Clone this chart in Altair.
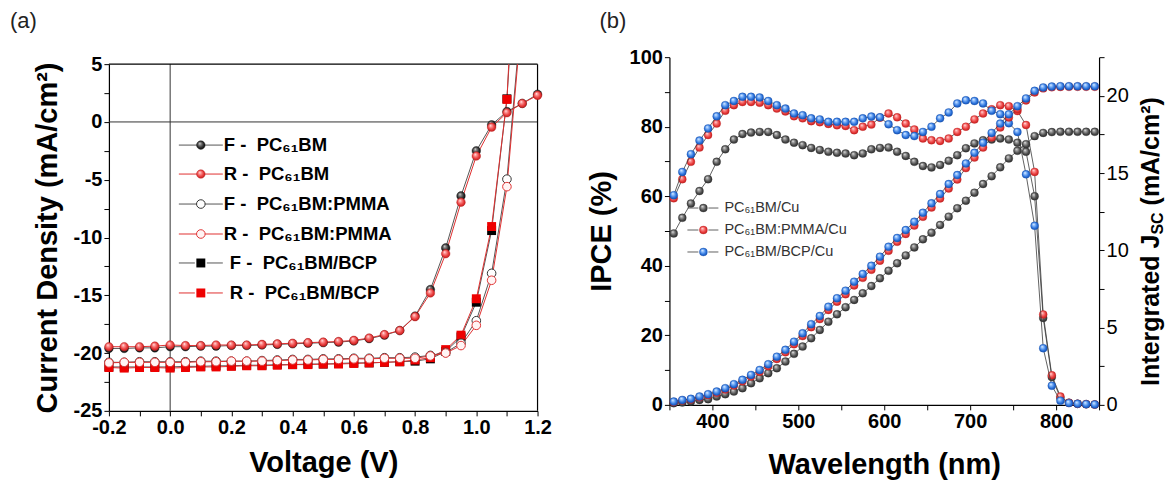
import altair as alt
import pandas as pd

FONT = "Liberation Sans"

# ---------------- panel (a): J-V curves ----------------
volt = [-0.2, -0.15, -0.1, -0.05, 0.0, 0.05, 0.1, 0.15, 0.2, 0.25, 0.3, 0.35, 0.4, 0.45,
        0.5, 0.55, 0.6, 0.65, 0.7, 0.75, 0.8, 0.85, 0.9, 0.95, 1.0, 1.05, 1.1, 1.15, 1.2]
volt_cut = volt[:27]  # PMMA / BCP points stop at 1.1 V

f_pcbm = [-19.6, -19.6, -19.55, -19.55, -19.45, -19.45, -19.4, -19.4, -19.35, -19.35, -19.3,
          -19.25, -19.2, -19.15, -19.1, -19.05, -18.95, -18.75, -18.45, -18.05, -16.8, -14.5,
          -10.9, -6.4, -2.5, -0.25, 0.9, 1.6, 2.4]
r_pcbm = [-19.45, -19.45, -19.45, -19.4, -19.3, -19.35, -19.35, -19.3, -19.3, -19.3, -19.25,
          -19.2, -19.15, -19.1, -19.05, -19.0, -18.9, -18.7, -18.4, -18.05, -16.85, -14.8,
          -11.4, -6.95, -2.95, -0.45, 0.8, 1.6, 2.3]
f_pmma = [-20.8, -20.8, -20.75, -20.75, -20.75, -20.75, -20.7, -20.7, -20.7, -20.7, -20.65,
          -20.6, -20.55, -20.55, -20.5, -20.5, -20.45, -20.45, -20.4, -20.4, -20.35, -20.2,
          -19.95, -19.15, -17.2, -13.1, -4.95]
r_pmma = [-20.85, -20.8, -20.8, -20.8, -20.8, -20.8, -20.75, -20.75, -20.7, -20.7, -20.7,
          -20.65, -20.6, -20.6, -20.55, -20.55, -20.5, -20.5, -20.45, -20.45, -20.45, -20.25,
          -20.0, -19.35, -17.6, -13.7, -5.6]
f_bcp = [-21.2, -21.2, -21.2, -21.2, -21.2, -21.15, -21.15, -21.1, -21.1, -21.05, -21.05,
         -21.0, -21.0, -20.95, -20.95, -20.9, -20.85, -20.85, -20.8, -20.75, -20.7, -20.5,
         -19.85, -18.6, -15.6, -9.4, 2.0]
r_bcp = [-21.25, -21.3, -21.25, -21.25, -21.3, -21.25, -21.2, -21.2, -21.15, -21.1, -21.1,
         -21.05, -21.0, -21.0, -20.95, -20.95, -20.9, -20.85, -20.8, -20.75, -20.6, -20.4,
         -19.7, -18.45, -15.3, -9.05, 1.95]
# where the steep curves leave the frame at the top (V, J)
exit_f_pmma = [1.133, 5.0]
exit_r_pmma = [1.135, 5.0]
exit_f_bcp = [1.107, 5.0]
exit_r_bcp = [1.106, 5.0]

legend_a = ["F -\u00a0\u00a0PC\u2086\u2081BM", "R -\u00a0\u00a0PC\u2086\u2081BM",
            "F -\u00a0\u00a0PC\u2086\u2081BM:PMMA", "R -\u00a0\u00a0PC\u2086\u2081BM:PMMA",
            "F -\u00a0\u00a0PC\u2086\u2081BM/BCP", "R -\u00a0\u00a0PC\u2086\u2081BM/BCP"]
ticks_v = [-0.2, -0.1, 0.0, 0.1, 0.2, 0.3, 0.4, 0.5, 0.6, 0.7, 0.8, 0.9, 1.0, 1.1, 1.2]
ticks_j = [-25, -22.5, -20, -17.5, -15, -12.5, -10, -7.5, -5, -2.5, 0, 2.5, 5]

# ---------------- panel (b): IPCE + integrated Jsc ----------------
lam = [355, 365, 375, 385, 395, 405, 415, 425, 435, 445, 455, 465, 475, 485, 495, 505, 515,
       525, 535, 545, 555, 565, 575, 585, 595, 605, 615, 625, 635, 645, 655, 665, 675, 685,
       695, 705, 715, 725, 735, 745, 755, 765, 775, 785, 795, 805, 815, 825, 835, 845]
ipce_cu = [49.3, 53.8, 57.9, 61.5, 64.9, 69.9, 73.5, 76.3, 77.9, 78.3, 78.5, 78.5, 77.6, 76.3,
           75.4, 74.7, 73.9, 73.3, 72.8, 72.5, 72.3, 71.8, 72.3, 73.5, 73.9, 74.0, 72.8, 71.6,
           69.9, 68.7, 68.3, 69.0, 70.2, 71.8, 73.8, 75.2, 76.1, 76.3, 76.6, 76.3, 75.4, 72.8,
           60.0, 25.0, 8.0, 2.0, 0.6, 0.3, 0.2, 0.1]
ipce_pmma = [59.4, 64.9, 69.9, 74.0, 77.6, 80.9, 84.6, 86.2, 87.1, 87.1, 86.9, 86.2, 85.2, 84.4,
             83.0, 82.4, 81.6, 81.3, 80.8, 80.4, 80.2, 79.0, 80.0, 80.6, 82.6, 83.8, 82.7, 80.9,
             79.2, 76.6, 76.1, 75.9, 76.6, 78.5, 80.0, 82.1, 83.8, 85.0, 86.2, 85.9, 84.5, 80.5,
             67.0, 26.0, 8.5, 2.4, 0.6, 0.3, 0.2, 0.1]
ipce_bcp = [60.3, 67.0, 72.1, 76.0, 79.5, 83.0, 86.2, 87.4, 88.6, 88.6, 88.4, 87.4, 86.2, 85.2,
            83.8, 83.3, 82.4, 82.1, 81.4, 81.4, 81.4, 81.4, 82.4, 82.9, 82.7, 80.7, 79.0, 77.6,
            77.3, 78.5, 80.0, 82.4, 84.1, 86.7, 87.6, 87.4, 86.7, 84.6, 83.6, 81.0, 78.5, 66.3,
            51.5, 16.3, 5.5, 1.2, 0.5, 0.3, 0.2, 0.1]
jsc_cu = [0.11, 0.15, 0.21, 0.32, 0.37, 0.54, 0.69, 0.86, 1.08, 1.40, 1.72, 2.05, 2.37, 2.80,
          3.30, 3.77, 4.31, 4.85, 5.38, 5.86, 6.32, 6.79, 7.22, 7.69, 8.19, 8.68, 9.16, 9.67,
          10.19, 10.71, 11.14, 11.64, 12.18, 12.72, 13.21, 13.73, 14.29, 14.80, 15.37, 15.95,
          16.44, 16.87, 17.39, 17.60, 17.65, 17.67, 17.67, 17.67, 17.67, 17.67]
jsc_pmma = [0.18, 0.28, 0.35, 0.49, 0.63, 0.79, 1.00, 1.25, 1.52, 1.83, 2.14, 2.50, 2.97, 3.40,
            3.92, 4.45, 5.03, 5.55, 6.14, 6.68, 7.16, 7.73, 8.22, 8.74, 9.33, 9.97, 10.55,
            11.06, 11.60, 12.17, 12.77, 13.36, 14.00, 14.58, 15.32, 16.00, 16.65, 17.30, 17.95,
            18.60, 19.15, 19.70, 20.22, 20.48, 20.55, 20.57, 20.58, 20.58, 20.58, 20.58]
jsc_bcp = [0.21, 0.32, 0.39, 0.54, 0.69, 0.86, 1.08, 1.34, 1.62, 1.94, 2.26, 2.63, 3.12, 3.56,
           4.09, 4.63, 5.22, 5.75, 6.35, 6.90, 7.39, 7.97, 8.47, 9.00, 9.59, 10.23, 10.80,
           11.31, 11.85, 12.43, 13.04, 13.64, 14.29, 14.87, 15.62, 16.31, 16.96, 17.60, 18.20,
           18.80, 19.33, 19.83, 20.32, 20.54, 20.60, 20.62, 20.62, 20.62, 20.62, 20.62]
legend_b = ["PC\u2086\u2081BM/Cu", "PC\u2086\u2081BM:PMMA/Cu", "PC\u2086\u2081BM/BCP/Cu"]
right_title = ["Intergrated J", "SC", "(mA/cm\u00b2)"]
ticks_lam = [350, 400, 450, 500, 550, 600, 650, 700, 750, 800, 850]
ticks_ipce = [0, 10, 20, 30, 40, 50, 60, 70, 80, 90, 100]
ticks_jsc = [0, 2.5, 5, 7.5, 10, 12.5, 15, 17.5, 20, 22.5]

# ---------------- styling helpers ----------------
# panel (a) view is 7px taller than its frame so its frame sits 7px lower than panel (b)'s
A_W, A_H, A_TOP = 429, 354, 7
B_W, B_H = 430, 348

COMMON_AXIS = dict(domainColor="black", domainWidth=1.2, tickColor="black", tickWidth=1,
                   tickSize=5, labelFont=FONT, labelFontSize=20, labelFontWeight="bold",
                   labelColor="black", titleFont=FONT, titleFontSize=29, titleFontWeight="bold",
                   titleColor="black", grid=False, labelPadding=2, labelOverlap=False,
                   labelFlush=False)


def sphere(hi, mid, edge):
    return alt.RadialGradient(
        gradient="radial", x1=0.36, y1=0.3, r1=0.0, x2=0.5, y2=0.5, r2=0.62,
        stops=[alt.GradientStop(offset=0.0, color="#ffffff"),
               alt.GradientStop(offset=0.2, color=hi),
               alt.GradientStop(offset=0.62, color=mid),
               alt.GradientStop(offset=1.0, color=edge)])


SPH_A_BLACK = dict(fill=sphere("#909090", "#2a2a2a", "#000000"), stroke="#111111")
SPH_A_RED = dict(fill=sphere("#ffa0a0", "#e83a3a", "#b01515"), stroke="#b01515")
SPH_B_BLACK = dict(fill=sphere("#a8a8a8", "#4a4a4a", "#222222"), stroke="#2a2a2a")
SPH_B_RED = dict(fill=sphere("#ff9a9a", "#e63838", "#b41818"), stroke="#b41818")
SPH_B_BLUE = dict(fill=sphere("#9cc8ff", "#2a72dc", "#0f44a0"), stroke="#0f44a0")

xa = alt.Scale(domain=[-0.2, 1.2], nice=False, zero=False)
ya = alt.Scale(domain=[-25, 5], nice=False, zero=False, range=[A_H, A_TOP])
xb = alt.Scale(domain=[350, 850], nice=False, zero=False)
yb = alt.Scale(domain=[0, 100], nice=False, zero=False)
yj = alt.Scale(domain=[0, 22.5], nice=False, zero=False)

X_AXIS_A = alt.Axis(values=ticks_v,
                    labelExpr="abs(round(datum.value*10)) % 2 == 0 ? (datum.value < -0.001 ? '-' : '') + format(abs(datum.value), '.1f') : ''",
                    title="Voltage (V)", titleX=A_W / 2, titleY=52, titleBaseline="middle",
                    **COMMON_AXIS)
Y_AXIS_A = alt.Axis(values=ticks_j,
                    labelExpr="abs(datum.value % 5) < 0.001 ? (datum.value < 0 ? '-' : '') + format(abs(datum.value), 'd') : ''",
                    title="Current Density (mA/cm\u00b2)", titleX=-61,
                    titleY=(A_H + A_TOP) / 2,
                    titleAngle=270, titleBaseline="middle", titleAlign="center",
                    **COMMON_AXIS)
X_AXIS_B = alt.Axis(values=ticks_lam,
                    labelExpr="datum.value % 100 == 0 ? format(datum.value, 'd') : ''",
                    title="Wavelength (nm)", titleX=B_W / 2, titleY=60, titleBaseline="middle",
                    **COMMON_AXIS)
Y_AXIS_B = alt.Axis(values=ticks_ipce,
                    labelExpr="datum.value % 20 == 0 ? format(datum.value, 'd') : ''",
                    title="IPCE (%)", titleX=-68, titleY=B_H / 2, titleAngle=270,
                    titleBaseline="middle", titleAlign="center", **COMMON_AXIS)
rc = dict(COMMON_AXIS)
rc["labelFontWeight"] = "normal"
Y_AXIS_J = alt.Axis(values=ticks_jsc, orient="right",
                    labelExpr="datum.value % 5 == 0 ? format(datum.value, 'd') : ''",
                    title="", **rc)


def df_xy(xs, ys, extra=None):
    xs = list(xs)
    ys = list(ys)
    if extra is not None:
        xs = xs + [extra[0]]
        ys = ys + [extra[1]]
    return pd.DataFrame({"x": xs, "y": ys})


def a_enc(chart):
    return chart.encode(x=alt.X("x:Q", scale=xa, axis=X_AXIS_A),
                        y=alt.Y("y:Q", scale=ya, axis=Y_AXIS_A))


def a_line(xs, ys, color, extra=None):
    return a_enc(alt.Chart(df_xy(xs, ys, extra)).mark_line(color=color, strokeWidth=1))


def txt(label, x, y, **kw):
    return alt.Chart(pd.DataFrame({"t": [label]})).mark_text(**kw).encode(
        text="t:N", x=alt.value(x), y=alt.value(y))


# ---------------- panel (a) layers ----------------
vzero = alt.Chart(pd.DataFrame({"x": [0.0]})).mark_rule(color="#333333", strokeWidth=1).encode(
    x=alt.X("x:Q", scale=xa, axis=X_AXIS_A), y=alt.value(A_TOP), y2=alt.value(A_H))
hzero = alt.Chart(pd.DataFrame({"y": [0.0]})).mark_rule(color="#333333", strokeWidth=1).encode(
    y=alt.Y("y:Q", scale=ya, axis=Y_AXIS_A))
frame_top = alt.Chart(pd.DataFrame({"t": [0]})).mark_rule(color="black", strokeWidth=1.2).encode(
    x=alt.value(0), x2=alt.value(A_W), y=alt.value(A_TOP))
frame_right = alt.Chart(pd.DataFrame({"t": [0]})).mark_rule(color="black", strokeWidth=1.2).encode(
    x=alt.value(A_W), y=alt.value(A_TOP), y2=alt.value(A_H))

GRAY_L = "#555555"
RED_L = "#e03030"
SZ_A = 74

a_layers = [vzero, hzero, frame_top, frame_right,
            a_line(volt_cut, f_bcp, GRAY_L, exit_f_bcp),
            a_line(volt_cut, r_bcp, RED_L, exit_r_bcp),
            a_line(volt_cut, f_pmma, GRAY_L, exit_f_pmma),
            a_line(volt_cut, r_pmma, RED_L, exit_r_pmma),
            a_line(volt, f_pcbm, GRAY_L),
            a_line(volt, r_pcbm, RED_L),
            a_enc(alt.Chart(df_xy(volt_cut, f_bcp)).mark_square(size=80, color="black", opacity=1)),
            a_enc(alt.Chart(df_xy(volt_cut, r_bcp)).mark_square(size=80, color="#ee0000", opacity=1)),
            a_enc(alt.Chart(df_xy(volt_cut, f_pmma)).mark_point(
                shape="circle", size=SZ_A, filled=True, fill="white", stroke="#333333",
                strokeWidth=1, opacity=1)),
            a_enc(alt.Chart(df_xy(volt_cut, r_pmma)).mark_point(
                shape="circle", size=SZ_A, filled=True, fill="#fff4f4", stroke="#e03535",
                strokeWidth=1, opacity=1)),
            a_enc(alt.Chart(df_xy(volt, f_pcbm)).mark_circle(size=SZ_A, opacity=1, strokeWidth=0.4,
                                                             **SPH_A_BLACK)),
            a_enc(alt.Chart(df_xy(volt, r_pcbm)).mark_circle(size=SZ_A, opacity=1, strokeWidth=0.4,
                                                             **SPH_A_RED)),
            ]

# legend (a)
row_y = [88, 117, 147, 177, 206, 236]
SYM_X = 92
for i, label in enumerate(legend_a):
    ry = row_y[i]
    lc = GRAY_L if i % 2 == 0 else RED_L
    d1 = pd.DataFrame({"t": [label]})
    if i < 4:
        a_layers.append(alt.Chart(d1).mark_rule(color=lc, strokeWidth=1).encode(
            x=alt.value(70), x2=alt.value(114), y=alt.value(ry)))
        tx = 115
    else:
        a_layers.append(alt.Chart(d1).mark_rule(color=lc, strokeWidth=1).encode(
            x=alt.value(70), x2=alt.value(86), y=alt.value(ry)))
        a_layers.append(alt.Chart(d1).mark_rule(color=lc, strokeWidth=1).encode(
            x=alt.value(98), x2=alt.value(114), y=alt.value(ry)))
        tx = 121
    if i == 0:
        sym = alt.Chart(d1).mark_circle(size=SZ_A, opacity=1, strokeWidth=0.4, **SPH_A_BLACK)
    elif i == 1:
        sym = alt.Chart(d1).mark_circle(size=SZ_A, opacity=1, strokeWidth=0.4, **SPH_A_RED)
    elif i == 2:
        sym = alt.Chart(d1).mark_point(shape="circle", size=SZ_A, filled=True, fill="white",
                                       stroke="#333333", strokeWidth=1, opacity=1)
    elif i == 3:
        sym = alt.Chart(d1).mark_point(shape="circle", size=SZ_A, filled=True, fill="#fff4f4",
                                       stroke="#e03535", strokeWidth=1, opacity=1)
    elif i == 4:
        sym = alt.Chart(d1).mark_square(size=80, color="black", opacity=1)
    else:
        sym = alt.Chart(d1).mark_square(size=80, color="#ee0000", opacity=1)
    a_layers.append(sym.encode(x=alt.value(SYM_X), y=alt.value(ry)))
    a_layers.append(txt(label, tx, ry, align="left", baseline="middle", font=FONT,
                        fontSize=18.5, fontWeight="bold", color="black"))

a_layers.append(txt("(a)", -99, -36, align="left", baseline="middle", font=FONT,
                    fontSize=22, color="#222222"))

panel_a = alt.layer(*a_layers).properties(width=A_W, height=A_H)

# ---------------- panel (b) layers ----------------
LINE_B = "#3a3a3a"
SZ_B = 64


def b_series(xs, ys, yscale, yaxis, style):
    d = df_xy(xs, ys)
    enc = dict(x=alt.X("x:Q", scale=xb, axis=X_AXIS_B), y=alt.Y("y:Q", scale=yscale, axis=yaxis))
    ln = alt.Chart(d).mark_line(color=LINE_B, strokeWidth=0.8).encode(**enc)
    pt = alt.Chart(d).mark_circle(size=SZ_B, opacity=1, strokeWidth=0.3, **style).encode(**enc)
    return [ln, pt]


ipce_layers = []
ipce_layers += b_series(lam, ipce_cu, yb, Y_AXIS_B, SPH_B_BLACK)
ipce_layers += b_series(lam, ipce_pmma, yb, Y_AXIS_B, SPH_B_RED)
ipce_layers += b_series(lam, ipce_bcp, yb, Y_AXIS_B, SPH_B_BLUE)

# legend (b)
rows_b = [151, 173, 195]
styles_b = [SPH_B_BLACK, SPH_B_RED, SPH_B_BLUE]
for i, label in enumerate(legend_b):
    ry = rows_b[i]
    d1 = pd.DataFrame({"t": [label]})
    ipce_layers.append(alt.Chart(d1).mark_rule(color=LINE_B, strokeWidth=0.8).encode(
        x=alt.value(18), x2=alt.value(29), y=alt.value(ry)))
    ipce_layers.append(alt.Chart(d1).mark_rule(color=LINE_B, strokeWidth=0.8).encode(
        x=alt.value(39), x2=alt.value(49), y=alt.value(ry)))
    ipce_layers.append(alt.Chart(d1).mark_circle(size=SZ_B, opacity=1, strokeWidth=0.3,
                                                 **styles_b[i]).encode(
        x=alt.value(34), y=alt.value(ry)))
    ipce_layers.append(txt(label, 55, ry, align="left", baseline="middle", font=FONT,
                           fontSize=14.5, color="#333333"))

ipce_layers.append(txt("(b)", -70, -36, align="left", baseline="middle", font=FONT,
                       fontSize=22, color="#222222"))

# right axis title, built from pieces (subscript SC)
RT_X, RT_Y0, RT_F, RT_FS = 482, 329, 25, 16
w1 = 151.4
w2 = 22.2
ipce_layers.append(txt(right_title[0], RT_X, RT_Y0, angle=270, align="left", baseline="middle",
                       font=FONT, fontSize=RT_F, fontWeight="bold", color="black"))
ipce_layers.append(txt(right_title[1], RT_X + 7, RT_Y0 - w1, angle=270, align="left",
                       baseline="middle", font=FONT, fontSize=RT_FS, fontWeight="bold",
                       color="black"))
ipce_layers.append(txt(right_title[2], RT_X, RT_Y0 - w1 - w2 - 7, angle=270, align="left",
                       baseline="middle", font=FONT, fontSize=RT_F, fontWeight="bold",
                       color="black"))

jsc_layers = []
jsc_layers += b_series(lam, jsc_cu, yj, Y_AXIS_J, SPH_B_BLACK)
jsc_layers += b_series(lam, jsc_pmma, yj, Y_AXIS_J, SPH_B_RED)
jsc_layers += b_series(lam, jsc_bcp, yj, Y_AXIS_J, SPH_B_BLUE)

panel_b = alt.layer(alt.layer(*ipce_layers), alt.layer(*jsc_layers)).resolve_scale(
    y="independent").properties(width=B_W, height=B_H)

chart = alt.hconcat(panel_a, panel_b, spacing=36).configure_view(stroke=None).properties(
    padding={"left": 2, "top": 2, "right": 0, "bottom": 0}, background="white")

chart.save("out.html", embed_options={"renderer": "svg", "actions": False})
